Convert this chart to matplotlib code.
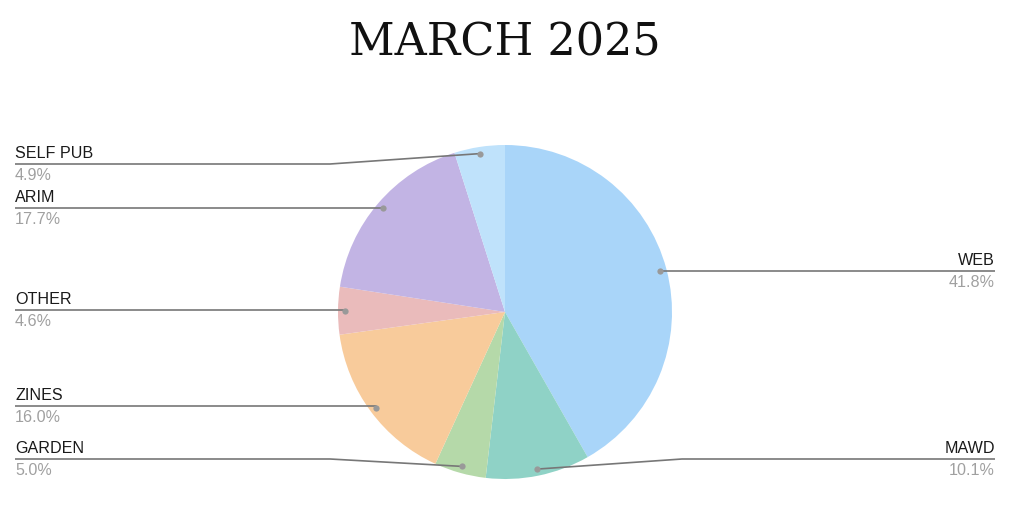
import numpy as np
import matplotlib.pyplot as plt

W, H = 1024, 507

labels = ['WEB', 'MAWD', 'GARDEN', 'ZINES', 'OTHER', 'ARIM', 'SELF PUB']
values = [41.8, 10.1, 5.0, 16.0, 4.6, 17.7, 4.9]
colors = ['#a9d5f9', '#8fd2c6', '#b5d9a9', '#f8cb9b', '#eabbbb', '#c2b4e4', '#bfe2fb']

# label line heights in pixels (from the top)
label_y = {'WEB': 271, 'MAWD': 459, 'GARDEN': 459, 'ZINES': 406,
           'OTHER': 310, 'ARIM': 208, 'SELF PUB': 164}

CX, CY, R = 505, 312, 167

def Y(py):
    return H - py

fig = plt.figure(figsize=(W / 100, H / 100), dpi=100)
ax = fig.add_axes([0, 0, 1, 1])
ax.set_aspect('equal')
ax.axis('off')

wedges, _ = ax.pie(values, colors=colors, center=(CX, Y(CY)), radius=R,
                   startangle=90, counterclock=False,
                   wedgeprops=dict(linewidth=0))
ax.set_xlim(0, W)
ax.set_ylim(0, H)

for w, lab, v in zip(wedges, labels, values):
    mid = np.deg2rad((w.theta1 + w.theta2) / 2)
    dx = CX + 0.96 * R * np.cos(mid)
    dy = Y(CY) + 0.96 * R * np.sin(mid)
    ly = Y(label_y[lab])
    if np.cos(mid) > 0:
        elbow = 682 if abs(ly - dy) > 2 else dx
        xs = [dx, elbow, 995]
        tx, ha = 995, 'right'
    else:
        elbow = 330 if abs(ly - dy) > 2 else dx
        xs = [dx, elbow, 15]
        tx, ha = 15, 'left'
    ax.plot(xs, [dy, ly, ly], color='#777777', lw=1.2, solid_capstyle='butt')
    ax.plot(dx, dy, 'o', color='#999999', ms=4.5, mec='none')
    ax.text(tx, ly + 3, lab, ha=ha, va='bottom', fontsize=11.6,
            family='Liberation Sans', color='#1a1a1a')
    ax.text(tx, ly - 4, f'{v:.1f}%', ha=ha, va='top', fontsize=11.6,
            family='Liberation Sans', color='#a0a0a0')

ax.text(505, Y(43), 'MARCH 2025', ha='center', va='center', fontsize=32,
        family='DejaVu Serif', color='#111111')

fig.savefig('out.png', dpi=100)
